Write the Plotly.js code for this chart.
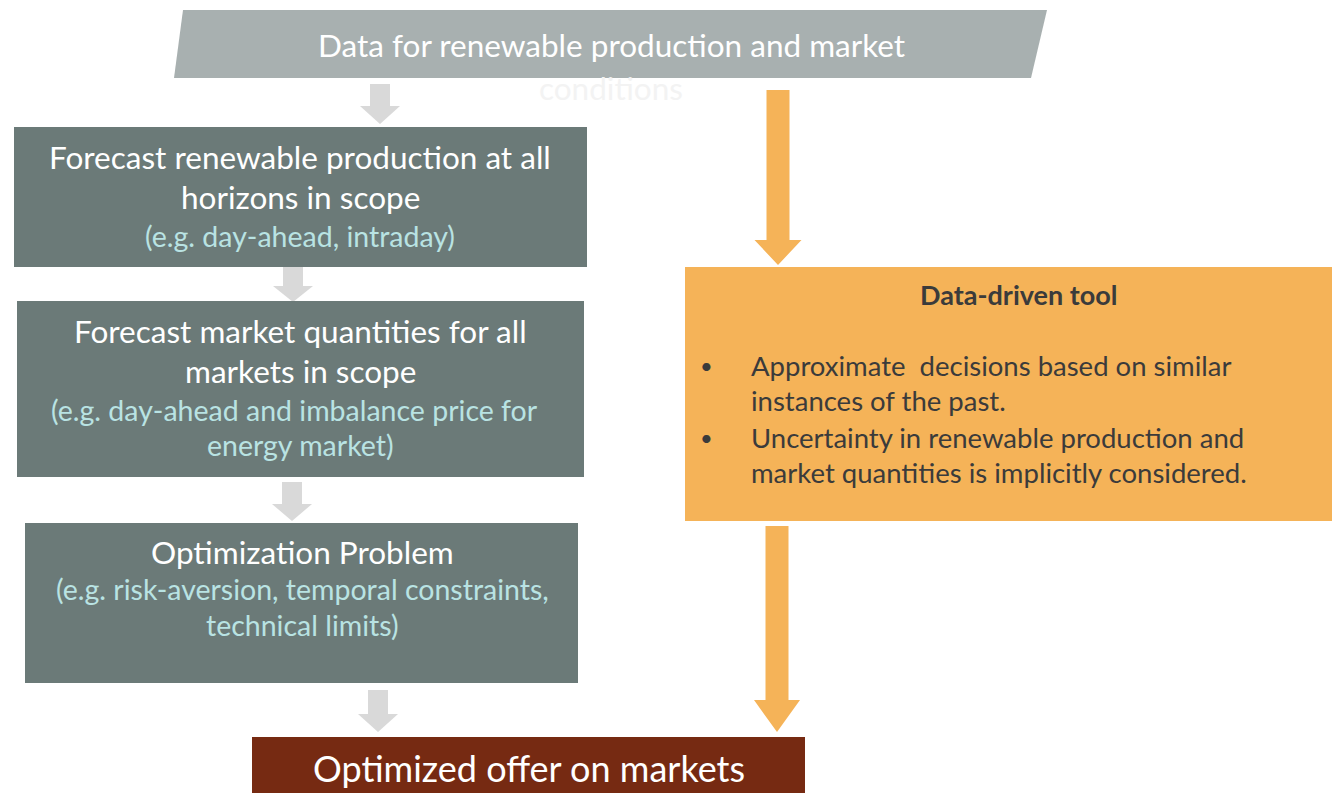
<!DOCTYPE html>
<html>
<head>
<meta charset="utf-8">
<script src="https://cdn.plot.ly/plotly-3.0.1.min.js"></script>
<style>html,body{margin:0;padding:0;background:#fff;}#chart{width:1332px;height:793px;}</style>
</head>
<body>
<div id="chart"></div>
<script>
// ---- text content ----
const topTitle = ["Data for renewable production and market", "conditions"];
const box1Main = ["Forecast renewable production at all", "horizons in scope"];
const box1Sub = ["(e.g. day-ahead, intraday)"];
const box2Main = ["Forecast market quantities for all", "markets in scope"];
const box2Sub = ["(e.g. day-ahead and imbalance price for", "energy market)"];
const box3Main = ["Optimization Problem"];
const box3Sub = ["(e.g. risk-aversion, temporal constraints,", "technical limits)"];
const toolTitle = ["Data-driven tool"];
const toolBullets = [["Approximate  decisions based on similar", "instances of the past."],
                     ["Uncertainty in renewable production and", "market quantities is implicitly considered."]];
const finalText = ["Optimized offer on markets"];

// ---- geometry (pixel-like coordinates) ----
const W = 1332, H = 793;
const FONT = "Lato, 'Open Sans', sans-serif";
const C_GREY = "#a8b0b0", C_BOX = "#6b7a78", C_SUB = "#b9e3e3", C_ARROW = "#d9d9d9";
const C_ORANGE = "#f5b358", C_FINAL = "#762a12", C_DARK = "#3b3b3b";
const MAIN = 31.5, SUB = 28.5;

const shapes = [];
const ann = [];
function rect(x0, y0, x1, y1, color) {
  shapes.push({type: "rect", xref: "x", yref: "y", x0, y0, x1, y1, fillcolor: color, line: {width: 0}, layer: "below"});
}
function path(d, color) {
  shapes.push({type: "path", xref: "x", yref: "y", path: d, fillcolor: color, line: {width: 0}, layer: "below"});
}
function downArrow(cx, y0, y1, shaftW, headW, headH, color) {
  const hs = shaftW / 2, hh = headW / 2, yh = y1 - headH;
  path(`M${cx - hs},${y0} L${cx + hs},${y0} L${cx + hs},${yh} L${cx + hh},${yh} L${cx},${y1} L${cx - hh},${yh} L${cx - hs},${yh} Z`, color);
}
function text(t, x, y, size, color, opts) {
  ann.push(Object.assign({text: t, x, y, xref: "x", yref: "y", showarrow: false, xanchor: "center", yanchor: "middle",
    font: {family: FONT, size, color}}, opts || {}));
}

// top parallelogram
path("M183,10 L1047,10 L1031,78 L174,78 Z", C_GREY);
text(topTitle[0], 611, 45, MAIN, "#ffffff");
text(topTitle[1], 611, 88, MAIN, "#f3f3f3");

// grey arrows
downArrow(380, 84, 124, 20, 40, 18, C_ARROW);
downArrow(293, 267, 302, 20, 40, 16, C_ARROW);
downArrow(292, 482, 521, 20, 40, 17, C_ARROW);
downArrow(378, 690, 732, 20, 40, 18, C_ARROW);

// box 1
rect(14, 127, 587, 267, C_BOX);
text(box1Main[0], 300, 157, MAIN, "#ffffff");
text(box1Main[1], 300, 197, MAIN, "#ffffff");
text(box1Sub[0], 300, 236, SUB, C_SUB);

// box 2
rect(17, 301, 584, 477, C_BOX);
text(box2Main[0], 300, 331, MAIN, "#ffffff");
text(box2Main[1], 300, 371, MAIN, "#ffffff");
text(box2Sub[0], 294, 410, SUB, C_SUB);
text(box2Sub[1], 300, 445, SUB, C_SUB);

// box 3
rect(25, 523, 578, 683, C_BOX);
text(box3Main[0], 302, 552, MAIN, "#ffffff");
text(box3Sub[0], 302, 589, SUB, C_SUB);
text(box3Sub[1], 302, 625, SUB, C_SUB);

// final box
rect(252, 737, 805, 800, C_FINAL);
text(finalText[0], 529, 768, 36, "#ffffff");

// orange arrows
downArrow(778, 90, 265, 23, 47, 25, C_ORANGE);
downArrow(777, 526, 732, 23, 46, 32, C_ORANGE);

// orange box
rect(685, 267, 1332, 521, C_ORANGE);
text("<b>" + toolTitle[0] + "</b>", 1018, 294, 27, C_DARK);
const lineY = [[365, 400], [437, 472]];
toolBullets.forEach((b, i) => {
  text("•", 706, lineY[i][0], 22, C_DARK);
  b.forEach((ln, j) => text(ln, 749, lineY[i][j], 27.5, C_DARK, {xanchor: "left"}));
});

const layout = {
  width: W, height: H,
  margin: {l: 0, r: 0, t: 0, b: 0},
  paper_bgcolor: "#ffffff", plot_bgcolor: "#ffffff",
  xaxis: {range: [0, W], visible: false, fixedrange: true},
  yaxis: {range: [H, 0], visible: false, fixedrange: true},
  shapes, annotations: ann, showlegend: false
};
Plotly.newPlot("chart", [{x: [0], y: [0], mode: "markers", marker: {opacity: 0}, hoverinfo: "skip"}], layout, {staticPlot: true});
</script>
</body>
</html>
